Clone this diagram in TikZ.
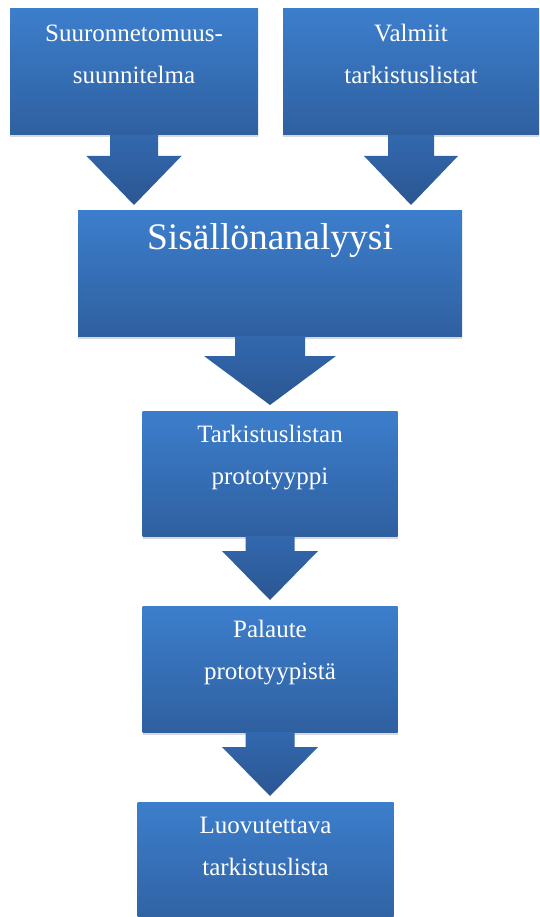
\documentclass[tikz,border=0pt]{standalone}
\usepackage{fontspec}
\setmainfont{Liberation Serif}
\usetikzlibrary{positioning, calc, shadows}

\definecolor{boxtop}{RGB}{60,126,204}
\definecolor{boxbottom}{RGB}{47,96,160}
\definecolor{arrowtop}{RGB}{50,104,174}
\definecolor{arrowbottom}{RGB}{43,86,146}

% block arrow: from, to, shaft half width, head half width
\newcommand{\flowarrow}[4]{%
  \path[arrowfill] let \p1=(#1.south), \p2=(#2.north) in
    (\x1-#3,\y1) -- (\x1+#3,\y1) -- (\x1+#3,\y2+55pt) -- (\x1+#4,\y2+55pt)
    -- (\x1,\y2+6pt) -- (\x1-#4,\y2+55pt) -- (\x1-#3,\y2+55pt) -- cycle;}

\begin{document}
\begin{tikzpicture}[
		box/.style n args={3}{inner sep=0pt, outer sep=0pt, minimum width=#1, minimum height=#2,
			top color=boxtop, bottom color=boxbottom, text=white,
			drop shadow={shadow xshift=0pt, shadow yshift=-2.5pt, opacity=0.3},
			font=\fontsize{25pt}{42pt}\selectfont,
			execute at begin node={\begin{minipage}[t][#2][t]{#1}\centering\vspace*{#3}\strut},
			execute at end node={\end{minipage}}},
		arrowfill/.style = {top color=arrowtop, bottom color=arrowbottom}
		]
		\useasboundingbox (0,0) rectangle (539pt,-917pt);
		% Laatikot
		\node[box={248pt}{126pt}{3pt}] (plan) at (134pt,-72pt) {Suuronnetomuus-\\suunnitelma};
		\node[box={256pt}{126pt}{3pt}, right=25pt of plan] (lists) {Valmiit\\tarkistuslistat};
		\coordinate (join) at ($(plan.south)!0.5!(lists.south)$);
		\node[box={384pt}{125pt}{8pt}, font=\fontsize{37.5pt}{44pt}\selectfont,
			below=76pt of join, xshift=-2.5pt] (analysis) {Sisällönanalyysi};
		\node[box={255pt}{125pt}{2pt}, below=75pt of analysis] (proto) {Tarkistuslistan\\prototyyppi};
		\node[box={255pt}{126pt}{2pt}, below=70pt of proto] (feedback) {Palaute\\prototyypistä};
		\node[box={256pt}{130pt}{2pt}, below=70pt of feedback, xshift=-4.5pt] (final) {Luovutettava\\tarkistuslista};
		
		% Nuolet
		\flowarrow{plan}{analysis}{24pt}{47.5pt}
		\flowarrow{lists}{analysis}{23pt}{47pt}
		\flowarrow{analysis}{proto}{35pt}{66pt}
		\flowarrow{proto}{feedback}{24.5pt}{48pt}
		\flowarrow{feedback}{final}{24.5pt}{48pt}
	\end{tikzpicture}
\end{document}
